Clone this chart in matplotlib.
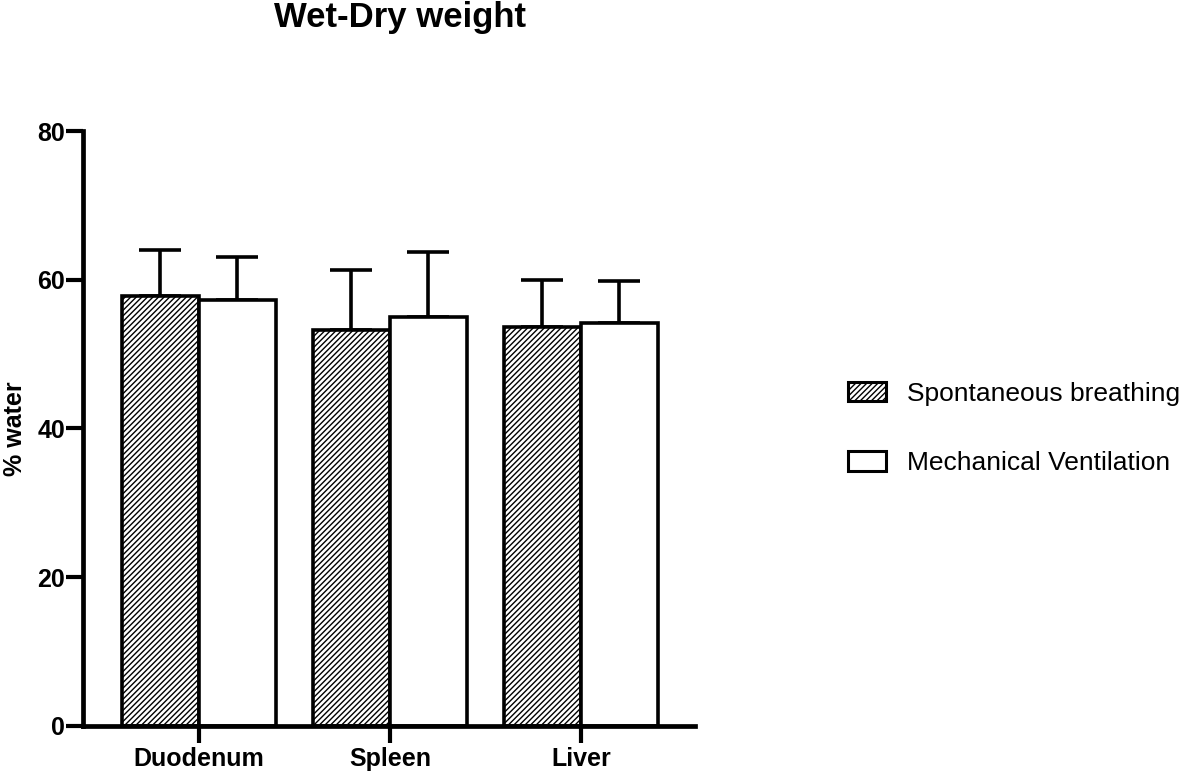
import numpy as np
import matplotlib.pyplot as plt
from matplotlib.patches import Patch

plt.rcParams['font.family'] = ['Liberation Sans', 'DejaVu Sans']
plt.rcParams['hatch.linewidth'] = 1.0

categories = ["Duodenum", "Spleen", "Liver"]
series_names = ["Spontaneous breathing", "Mechanical Ventilation"]
sb_mean = [57.8, 53.2, 53.6]
sb_sd = [6.2, 8.1, 6.3]
mv_mean = [57.3, 55.0, 54.2]
mv_sd = [5.7, 8.7, 5.6]
yticks = [0, 20, 40, 60, 80]

LW = 2.6
fig = plt.figure(figsize=(11.81, 7.72), dpi=100)
ax = fig.add_axes([0.0703, 0.0596, 0.5182, 0.7707])

x = np.arange(len(categories))
w = 0.403
ax.bar(x - w / 2, sb_mean, w, facecolor="white", edgecolor="black",
       hatch="//////", linewidth=LW, zorder=2)
ax.bar(x + w / 2, mv_mean, w, facecolor="white", edgecolor="black",
       linewidth=LW, zorder=2)
err_kw = dict(fmt="none", ecolor="black", elinewidth=LW, capsize=15, capthick=LW, zorder=1)
ax.errorbar(x - w / 2, sb_mean, yerr=[np.zeros(3), sb_sd], **err_kw)
ax.errorbar(x + w / 2, mv_mean, yerr=[np.zeros(3), mv_sd], **err_kw)

ax.set_xlim(-0.607, 2.597)
ax.set_ylim(0, 80)
ax.set_yticks(yticks)
ax.set_xticks(x)
ax.set_xticklabels(categories, fontsize=18, fontweight="bold")
for lab in ax.get_yticklabels():
    lab.set_fontsize(18)
    lab.set_fontweight("bold")
ax.tick_params(axis="both", width=3, length=12, pad=1)
ax.tick_params(axis="x", pad=3)
for s in ["top", "right"]:
    ax.spines[s].set_visible(False)
for s in ["left", "bottom"]:
    ax.spines[s].set_linewidth(3.4)
ax.set_ylabel("% water", fontsize=18, fontweight="bold", labelpad=7)

fig.text(0.339, 0.977, "Wet-Dry weight", fontsize=25, fontweight="bold",
         ha="center", va="center")

handles = [Patch(facecolor="white", edgecolor="black", hatch="//////", linewidth=2.2),
           Patch(facecolor="white", edgecolor="black", linewidth=2.2)]
fig.legend(handles, series_names, loc="center left", bbox_to_anchor=(0.718, 0.445),
           frameon=False, fontsize=19, handlelength=1.45, handleheight=0.75,
           labelspacing=1.72, handletextpad=0.8, borderaxespad=0, borderpad=0)

fig.savefig("out.png", dpi=100)
